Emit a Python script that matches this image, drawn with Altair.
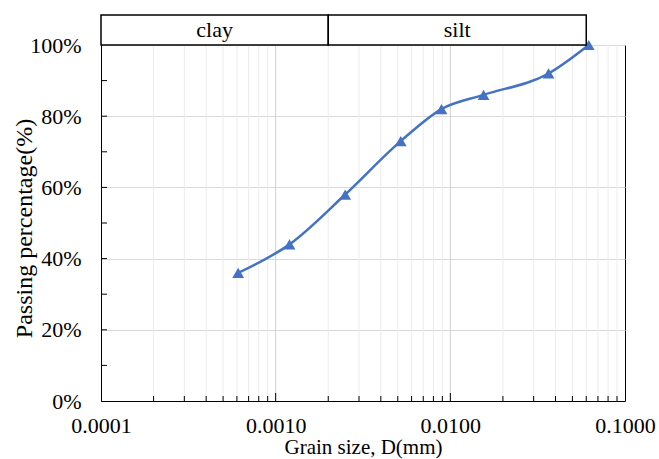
import altair as alt
import pandas as pd

# Grain-size distribution (hydrometer / sieve results)
grain_size_mm = [0.00061, 0.0012, 0.0025, 0.0052, 0.0089, 0.0155, 0.0365, 0.062]
passing_pct = [36, 44, 58, 73, 82, 86, 92, 100]

# Soil fraction bands drawn above the plot
band_names = ["clay", "silt"]
band_lo = [0.0001, 0.002]
band_hi = [0.002, 0.06]

# Axis tick positions
decades = [0.0001, 0.001, 0.01, 0.1]
inner_decades = [0.001, 0.01]
minor_steps = [2, 3, 4, 5, 6, 7, 8, 9]
y_label_values = [0, 20, 40, 60, 80, 100]
y_tick_values = [10, 20, 30, 40, 50, 60, 70, 80, 90]

W, H = 524, 356
FONT = "Liberation Serif"
BLUE = "#4472C4"

minor_positions = [m * d for d in decades[:-1] for m in minor_steps]

df = pd.DataFrame({"d": grain_size_mm, "p": passing_pct})
df_minor = pd.DataFrame({"d": minor_positions})
df_major = pd.DataFrame({"d": inner_decades})
df_yticks = pd.DataFrame({"p": y_tick_values})
df_band = pd.DataFrame({
    "name": band_names,
    "d": band_lo,
    "d2": band_hi,
    "mid": [(a * b) ** 0.5 for a, b in zip(band_lo, band_hi)],
})

x_scale = alt.Scale(type="log", domain=[0.0001, 0.1], nice=False)
y_scale = alt.Scale(domain=[0, 100], nice=False)

x_axis = alt.Axis(
    values=decades, format=".4f", grid=False, ticks=False,
    domainColor="black", domainWidth=1,
    labelFont=FONT, labelFontSize=22, labelColor="black", labelPadding=14,
    labelFlush=False,
    title="Grain size, D(mm)", titleFont=FONT, titleFontSize=21,
    titleFontWeight="normal", titleColor="black",
    titleBaseline="middle", titleY=46,
)
y_axis = alt.Axis(
    values=y_label_values, labelExpr="datum.value + '%'",
    grid=True, gridColor="#d9d9d9", gridWidth=1, ticks=False,
    domainColor="black", domainWidth=1,
    labelFont=FONT, labelFontSize=22, labelColor="black", labelPadding=20,
    title="Passing percentage(%)", titleFont=FONT, titleFontSize=24,
    titleFontWeight="normal", titleColor="black",
    titleBaseline="middle", titleX=-77, titleY=183, titleAngle=270,
)


def xd(field="d"):
    return alt.X(f"{field}:Q", scale=x_scale, axis=x_axis, title="Grain size, D(mm)")


def yp():
    return alt.Y("p:Q", scale=y_scale, axis=y_axis, title="Passing percentage(%)")


minor_grid = alt.Chart(df_minor).mark_rule(color="#ececec", strokeWidth=1).encode(
    x=xd()
)
major_grid = alt.Chart(df_major).mark_rule(color="#d0d0d0", strokeWidth=1).encode(
    x=xd()
)
x_minor_ticks = alt.Chart(df_minor).mark_rule(color="black", strokeWidth=1).encode(
    x=xd(), y=alt.value(H), y2=alt.value(H - 5),
)
x_major_ticks = alt.Chart(df_major).mark_rule(color="black", strokeWidth=1).encode(
    x=xd(), y=alt.value(H), y2=alt.value(H - 8),
)
y_ticks = alt.Chart(df_yticks).mark_rule(color="black", strokeWidth=1).encode(
    y=yp(), x=alt.value(0), x2=alt.value(6),
)

band_boxes = alt.Chart(df_band).mark_rect(
    fill="white", stroke="black", strokeWidth=1.5, clip=False
).encode(
    x=xd(), x2="d2:Q",
    y=alt.value(-30), y2=alt.value(0),
)
band_text = alt.Chart(df_band).mark_text(
    font=FONT, fontSize=22, color="black", baseline="middle", clip=False
).encode(
    x=xd("mid"),
    y=alt.value(-15),
    text="name:N",
)

curve = alt.Chart(df).mark_line(
    color=BLUE, strokeWidth=2.5, interpolate="monotone", clip=False
).encode(x=xd(), y=yp())
points = alt.Chart(df).mark_point(
    shape="triangle-up", filled=True, color=BLUE, opacity=1, size=140, clip=False
).encode(x=xd(), y=yp())

chart = alt.layer(
    minor_grid, major_grid, x_minor_ticks, x_major_ticks, y_ticks,
    curve, points, band_boxes, band_text,
).properties(
    width=W, height=H,
    autosize=alt.AutoSizeParams(type="none"),
    padding={"left": 101, "top": 45, "right": 34, "bottom": 58},
    background="white",
).configure_view(
    stroke="black", strokeWidth=1
)

chart.save("out.html", embed_options={"renderer": "svg", "actions": False})
